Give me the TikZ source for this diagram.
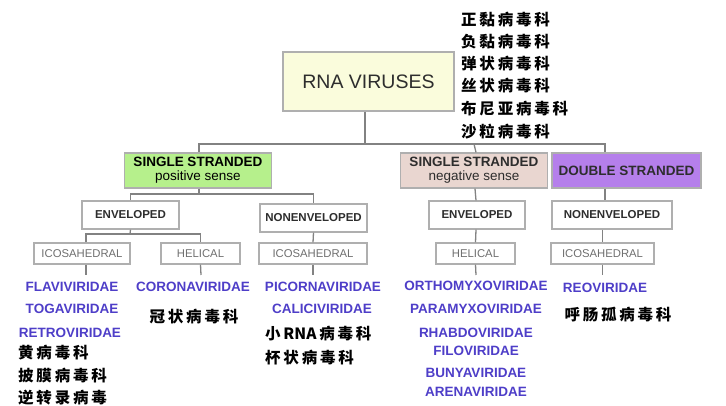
\documentclass[tikz,border=0pt]{standalone}
\usepackage{fontspec}
\setmainfont{Liberation Sans}
\newfontfamily\cjk{Noto Sans CJK SC}[LetterSpace=18]
\definecolor{boxgray}{RGB}{175,175,175}
\definecolor{conngray}{RGB}{130,130,130}
\definecolor{rnafill}{RGB}{250,252,220}
\definecolor{greenfill}{RGB}{182,240,140}
\definecolor{pinkfill}{RGB}{233,214,208}
\definecolor{purplefill}{RGB}{181,127,235}
\definecolor{famblue}{RGB}{78,62,200}
\definecolor{darktxt}{RGB}{45,45,45}
\definecolor{graytxt}{RGB}{110,110,110}
\begin{document}
\begin{tikzpicture}[x=1pt,y=-1pt,
  bx/.style={draw=boxgray, line width=1.2pt, inner sep=0pt, align=center},
  conn/.style={draw=conngray, line width=1.3pt},
  envtxt/.style={font=\fontsize{11.5}{13}\selectfont\bfseries, text=darktxt},
  icotxt/.style={font=\fontsize{11.3}{13}\selectfont, text=graytxt},
  fam/.style={font=\fontsize{13.5}{15}\selectfont\bfseries, text=famblue, inner sep=0pt},
  zh/.style={font=\cjk\bfseries\fontsize{15.5}{18}\selectfont, text=black, inner sep=0pt, anchor=west},
  zhc/.style={font=\cjk\bfseries\fontsize{15.5}{18}\selectfont, text=black, inner sep=0pt}]
\useasboundingbox (0,0) rectangle (726,406);
% top
\node[bx, fill=rnafill, minimum width=171, minimum height=59, font=\fontsize{19.5}{22}\selectfont, text=darktxt] (rna) at (368.5,81.5) {RNA VIRUSES};
% level 1
\node[bx, fill=greenfill, minimum width=147, minimum height=35, font=\fontsize{13.5}{14}\selectfont] (ssp) at (198,170.5) {\textbf{SINGLE STRANDED}\\positive sense};
\node[bx, fill=pinkfill, minimum width=147, minimum height=35, font=\fontsize{13.5}{14}\selectfont, text=darktxt] (ssn) at (474,170.5) {\textbf{SINGLE STRANDED}\\negative sense};
\node[bx, fill=purplefill, minimum width=149, minimum height=35, font=\fontsize{13.5}{14}\selectfont\bfseries, text=darktxt] (ds) at (626.5,170.5) {DOUBLE STRANDED};
% level 2
\node[bx, envtxt, minimum width=97, minimum height=28] (env1) at (130.5,215) {ENVELOPED};
\node[bx, envtxt, minimum width=107, minimum height=28] (ne1) at (313.5,218) {NONENVELOPED};
\node[bx, envtxt, minimum width=96, minimum height=28] (env2) at (477,215) {ENVELOPED};
\node[bx, envtxt, minimum width=120, minimum height=28] (ne2) at (612,215) {NONENVELOPED};
% level 3
\node[bx, icotxt, minimum width=96, minimum height=21] (ico1) at (82,253.5) {ICOSAHEDRAL};
\node[bx, icotxt, minimum width=79, minimum height=21] (hel1) at (200.5,253.5) {HELICAL};
\node[bx, icotxt, minimum width=108, minimum height=21] (ico2) at (313,253.5) {ICOSAHEDRAL};
\node[bx, icotxt, minimum width=79, minimum height=21] (hel2) at (475.5,253.5) {HELICAL};
\node[bx, icotxt, minimum width=103, minimum height=21] (ico3) at (602.5,253.5) {ICOSAHEDRAL};
% connectors
\coordinate (j0) at (365,144);
\coordinate (jd) at (605,144);
\draw[conn] (rna.south -| j0) -- (j0);
\draw[conn] ([xshift=1]ssp.north) |- (jd) -- (ds.north -| jd);
\draw[conn] (j0 -| ssn.north) -- ([xshift=2]ssn.north);
\coordinate (j1) at (199,194);
\draw[conn] ([xshift=1]ssp.south) -- (j1);
\draw[conn] (env1.north) |- (j1) -| (ne1.north);
\coordinate (j2) at (130,234);
\draw[conn] (env1.south) -- (j2);
\draw[conn] ([xshift=4]ico1.north) |- (j2) -| (hel1.north);
\draw[conn] (ne1.south) -- (ico2.north);
\draw[conn] ([xshift=1]ssn.south) -- ([xshift=-1]env2.north);
\draw[conn] ([xshift=-1]env2.south) -- (hel2.north);
\draw[conn] (ds.south -| jd) -- (ne2.north -| jd);
\draw[conn] (ne2.south -| ico3.north) -- (ico3.north);
\coordinate (e1) at (86,275);
\coordinate (e2) at (201,275);
\coordinate (e3) at (313,275);
\coordinate (e4) at (476,275);
\coordinate (e5) at (602.5,275);
\draw[conn] ([xshift=4]ico1.south) -- (e1);
\draw[conn] (hel1.south) -- (e2);
\draw[conn] (ico2.south) -- (e3);
\draw[conn] (hel2.south) -- (e4);
\draw[conn] (ico3.south) -- (e5);
% families
\node[fam] (f1) at (72,287) {FLAVIVIRIDAE};
\node[fam] (f2) at (72,309) {TOGAVIRIDAE};
\node[fam] (f3) at (70,333) {RETROVIRIDAE};
\node[fam] (f4) at (193,287) {CORONAVIRIDAE};
\node[fam] (f5) at (323,287) {PICORNAVIRIDAE};
\node[fam] (f6) at (322,309) {CALICIVIRIDAE};
\node[fam] (f7) at (476,286) {ORTHOMYXOVIRIDAE};
\node[fam] (f8) at (476,309) {PARAMYXOVIRIDAE};
\node[fam] (f9) at (476,333) {RHABDOVIRIDAE};
\node[fam] (f10) at (476,351) {FILOVIRIDAE};
\node[fam] (f11) at (476,373) {BUNYAVIRIDAE};
\node[fam] (f12) at (476,392) {ARENAVIRIDAE};
\node[fam] (f13) at (605,288) {REOVIRIDAE};
% chinese
\node[zh] (c1) at (461,20) {正黏病毒科};
\node[zh] (c2) at (461,42) {负黏病毒科};
\node[zh] (c3) at (461,64) {弹状病毒科};
\node[zh] (c4) at (461,86) {丝状病毒科};
\node[zh] (c5) at (461,109) {布尼亚病毒科};
\node[zh] (c6) at (461,132) {沙粒病毒科};
\node[zh] (c7) at (18,353) {黄病毒科};
\node[zh] (c8) at (18,376) {披膜病毒科};
\node[zh] (c9) at (18,398) {逆转录病毒};
\node[zhc] (c10) at (194,317) {冠状病毒科};
\node[zh] (c11) at (265,334) {小\hspace{2.8pt}{\addfontfeature{LetterSpace=0}RNA}\hspace{2.8pt}病毒科};
\node[zh] (c12) at (265,358) {杯状病毒科};
\node[zhc] (c13) at (618,315) {呼肠孤病毒科};
\end{tikzpicture}
\end{document}
